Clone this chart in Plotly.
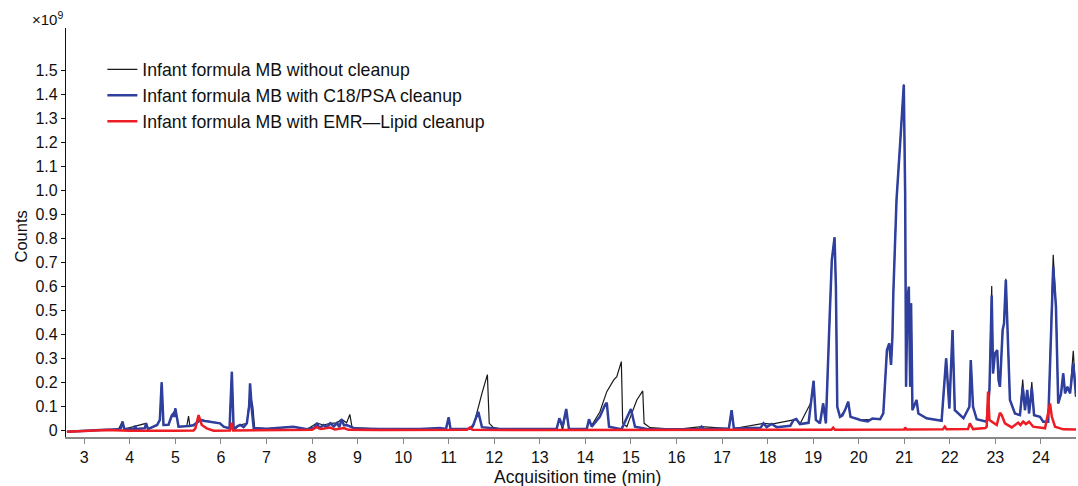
import plotly.graph_objects as go

# ---------------- data (time in min, counts in units of 1e9) ----------------
blue_t = [2.62, 2.91, 3.35, 3.75, 3.80, 3.84, 3.88, 4.10, 4.12, 4.14, 4.33, 4.36, 4.40, 4.60, 4.66, 4.70,
          4.74, 4.85, 4.92, 4.96, 4.98, 5.00, 5.03, 5.07, 5.29, 5.40, 5.47, 5.55, 5.65, 5.77, 5.85, 5.98,
          6.06, 6.19, 6.24, 6.28, 6.35, 6.42, 6.50, 6.57, 6.62, 6.64, 6.68, 6.72, 7.01, 7.30, 7.59, 7.89,
          8.05, 8.11, 8.16, 8.25, 8.32, 8.40, 8.48, 8.55, 8.60, 8.65, 8.70, 8.76, 8.95, 9.50, 10.37, 10.81,
          10.94, 11.00, 11.04, 11.47, 11.54, 11.65, 11.73, 12.13, 13.00, 13.37, 13.43, 13.50, 13.58, 13.64,
          14.03, 14.08, 14.14, 14.32, 14.43, 14.47, 14.52, 14.76, 14.80, 15.00, 15.09, 15.35, 16.00, 16.50,
          16.55, 16.60, 17.15, 17.21, 17.26, 17.85, 17.91, 17.98, 18.09, 18.20, 18.50, 18.57, 18.63, 18.71,
          18.90, 18.95, 19.01, 19.06, 19.15, 19.22, 19.28, 19.36, 19.41, 19.47, 19.50, 19.53, 19.59, 19.64,
          19.70, 19.77, 19.82, 19.99, 20.03, 20.20, 20.30, 20.47, 20.54, 20.62, 20.67, 20.71, 20.74, 20.76,
          20.83, 20.91, 20.96, 20.99, 21.02, 21.04, 21.07, 21.10, 21.13, 21.15, 21.18, 21.27, 21.31, 21.49,
          21.82, 21.88, 21.92, 21.99, 22.06, 22.11, 22.30, 22.43, 22.46, 22.51, 22.59, 22.81, 22.87, 22.92,
          22.95, 22.99, 23.04, 23.07, 23.10, 23.16, 23.19, 23.23, 23.28, 23.32, 23.43, 23.54, 23.60, 23.65,
          23.70, 23.74, 23.80, 23.85, 23.98, 24.05, 24.16, 24.21, 24.27, 24.33, 24.38, 24.44, 24.49, 24.53,
          24.58, 24.64, 24.71, 24.77]
blue_v = [-0.007, -0.003, 0.0, 0.003, 0.006, 0.035, 0.004, 0.005, 0.018, 0.004, 0.008, 0.028, 0.004, 0.021, 0.042, 0.199,
          0.021, 0.022, 0.06, 0.07, 0.055, 0.09, 0.062, 0.014, 0.017, 0.02, 0.03, 0.042, 0.038, 0.035, 0.03, 0.028,
          0.014, 0.007, 0.243, 0.0, 0.015, 0.021, 0.012, 0.028, 0.10, 0.195, 0.083, 0.007, 0.005, 0.008, 0.014, 0.003,
          0.01, 0.029, 0.008, 0.021, 0.012, 0.028, 0.015, 0.03, 0.012, 0.045, 0.02, 0.021, 0.006, 0.004, 0.004, 0.008,
          0.004, 0.053, 0.004, 0.005, 0.021, 0.076, 0.012, 0.004, 0.004, 0.005, 0.049, 0.014, 0.088, 0.004,
          0.004, 0.045, 0.014, 0.056, 0.104, 0.114, 0.014, 0.004, 0.006, 0.088, 0.014, 0.004, 0.003, 0.004,
          0.014, 0.003, 0.006, 0.083, 0.006, 0.01, 0.028, 0.012, 0.025, 0.012, 0.018, 0.042, 0.046, 0.025,
          0.03, 0.114, 0.205, 0.042, 0.028, 0.111, 0.028, 0.458, 0.708, 0.803, 0.597, 0.097, 0.055, 0.06,
          0.083, 0.118, 0.055, 0.045, 0.042, 0.036, 0.048, 0.045, 0.069, 0.333, 0.361, 0.271, 0.389, 0.569,
          0.958, 1.195, 1.361, 1.438, 0.986, 0.18, 0.542, 0.597, 0.18, 0.528, 0.083, 0.125, 0.069, 0.049,
          0.039, 0.2, 0.299, 0.09, 0.417, 0.083, 0.049, 0.097, 0.292, 0.097, 0.045, 0.035, 0.167, 0.56,
          0.236, 0.319, 0.333, 0.208, 0.18, 0.417, 0.444, 0.625, 0.347, 0.125, 0.069, 0.062, 0.18, 0.083,
          0.167, 0.069, 0.174, 0.062, 0.055, 0.035, 0.035, 0.375, 0.68, 0.514, 0.111, 0.15, 0.236, 0.153,
          0.18, 0.153, 0.278, 0.139]

black_t = [2.62, 2.91, 3.35, 3.75, 3.84, 3.88, 4.36, 4.40, 4.60, 4.66, 4.70, 4.74, 4.85, 4.96, 5.00, 5.07,
           5.25, 5.29, 5.32, 5.47, 5.55, 5.77, 5.98, 6.06, 6.19, 6.24, 6.28, 6.42, 6.57, 6.64, 6.70, 6.74,
           7.01, 7.59, 7.89, 8.11, 8.25, 8.40, 8.55, 8.65, 8.76, 8.83, 8.88, 9.50, 10.37, 10.94, 11.00, 11.04,
           11.47, 11.54, 11.73, 11.85, 11.89, 11.98, 12.13, 13.00, 13.37, 13.43, 13.50, 13.58, 13.64, 14.03,
           14.08, 14.14, 14.32, 14.47, 14.62, 14.69, 14.75, 14.79, 14.82, 14.91, 15.00, 15.13, 15.26, 15.29,
           15.42, 16.00, 16.55, 17.15, 17.21, 17.26, 17.91, 18.09, 18.57, 18.63, 18.71, 18.95, 19.01, 19.06,
           19.15, 19.22, 19.28, 19.36, 19.41, 19.47, 19.50, 19.53, 19.59, 19.70, 19.77, 19.82, 19.99, 20.03,
           20.47, 20.54, 20.62, 20.67, 20.71, 20.74, 20.76, 20.83, 20.91, 20.96, 20.99, 21.02, 21.04, 21.07,
           21.10, 21.13, 21.15, 21.18, 21.27, 21.31, 21.49, 21.82, 21.88, 21.92, 21.99, 22.06, 22.11, 22.30,
           22.43, 22.46, 22.51, 22.59, 22.81, 22.87, 22.92, 22.95, 22.99, 23.04, 23.07, 23.10, 23.16, 23.19,
           23.23, 23.28, 23.32, 23.43, 23.54, 23.60, 23.65, 23.70, 23.74, 23.80, 23.85, 23.98, 24.05, 24.16,
           24.21, 24.27, 24.33, 24.38, 24.44, 24.49, 24.53, 24.58, 24.64, 24.71, 24.77]
black_v = [-0.007, -0.003, 0.0, 0.003, 0.035, 0.004, 0.028, 0.004, 0.021, 0.042, 0.199, 0.021, 0.022, 0.07, 0.09, 0.014,
           0.015, 0.058, 0.015, 0.03, 0.042, 0.035, 0.028, 0.014, 0.007, 0.243, 0.0, 0.021, 0.028, 0.15, 0.10, 0.01,
           0.005, 0.014, 0.003, 0.029, 0.021, 0.028, 0.03, 0.045, 0.03, 0.065, 0.01, 0.004, 0.004, 0.004, 0.053, 0.004,
           0.005, 0.014, 0.153, 0.231, 0.028, 0.011, 0.004, 0.004, 0.005, 0.05, 0.0, 0.08, 0.004, 0.004,
           0.04, 0.02, 0.076, 0.16, 0.208, 0.222, 0.257, 0.285, 0.028, 0.014, 0.06, 0.125, 0.163, 0.028,
           0.01, 0.003, 0.014, 0.006, 0.083, 0.006, 0.028, 0.025, 0.042, 0.046, 0.025, 0.114, 0.205, 0.042,
           0.028, 0.111, 0.028, 0.458, 0.708, 0.803, 0.597, 0.097, 0.055, 0.083, 0.118, 0.055, 0.045, 0.042,
           0.045, 0.069, 0.333, 0.361, 0.271, 0.389, 0.569, 0.958, 1.195, 1.361, 1.44, 0.986, 0.18, 0.542,
           0.597, 0.18, 0.528, 0.083, 0.125, 0.069, 0.049, 0.039, 0.2, 0.299, 0.09, 0.417, 0.083, 0.049,
           0.097, 0.292, 0.097, 0.045, 0.035, 0.167, 0.60, 0.236, 0.319, 0.333, 0.208, 0.18, 0.417, 0.444,
           0.63, 0.347, 0.125, 0.069, 0.062, 0.21, 0.083, 0.167, 0.069, 0.20, 0.062, 0.055, 0.035, 0.035,
           0.375, 0.73, 0.514, 0.111, 0.15, 0.236, 0.153, 0.18, 0.153, 0.33, 0.139]

red_t = [2.62, 3.00, 3.50, 4.00, 4.50, 5.00, 5.40, 5.44, 5.51, 5.58, 5.69, 5.84, 6.20, 6.24, 6.27, 7.00,
         7.50, 8.00, 8.10, 8.20, 8.40, 8.50, 8.70, 8.80, 9.50, 10.50, 11.40, 11.47, 11.52, 13.00, 15.00, 17.00,
         19.40, 19.44, 19.48, 21.00, 21.02, 21.05, 21.85, 21.89, 21.93, 22.40, 22.44, 22.51, 22.78, 22.81,
         22.84, 22.87, 22.92, 23.03, 23.10, 23.14, 23.21, 23.36, 23.50, 23.55, 23.61, 23.67, 23.74, 23.83,
         24.09, 24.16, 24.20, 24.24, 24.31, 24.49, 24.77]
red_v = [-0.007, -0.003, 0.0, -0.003, -0.004, -0.003, -0.002, 0.007, 0.062, 0.021, 0.007, -0.003, -0.002, 0.03, -0.002, 0.0,
         0.002, 0.001, 0.012, 0.004, 0.01, 0.002, 0.008, 0.001, 0.0, 0.001, 0.001, 0.011, 0.001, 0.0, 0.0, 0.0,
         0.001, 0.01, 0.001, 0.002, 0.011, 0.002, 0.003, 0.014, 0.003, 0.004, 0.028, 0.004, 0.008, 0.014,
         0.16, 0.042, 0.035, 0.021, 0.072, 0.062, 0.028, 0.011, 0.031, 0.021, 0.035, 0.025, 0.035, 0.014,
         0.007, 0.069, 0.111, 0.055, 0.014, 0.003, 0.002]

y_tickvals = [0, 0.1, 0.2, 0.3, 0.4, 0.5, 0.6, 0.7, 0.8, 0.9, 1.0, 1.1, 1.2, 1.3, 1.4, 1.5]
y_ticktext = ["0", "0.1", "0.2", "0.3", "0.4", "0.5", "0.6", "0.7", "0.8", "0.9", "1.0", "1.1", "1.2", "1.3", "1.4", "1.5"]
x_tickvals = list(range(3, 25))

names = ["Infant formula MB without cleanup",
         "Infant formula MB with C18/PSA cleanup",
         "Infant formula MB with EMR\u2014Lipid cleanup"]

FONT = "Liberation Sans, Arial, sans-serif"
TXT = "#111111"

fig = go.Figure()
fig.add_trace(go.Scatter(x=black_t, y=black_v, mode="lines", name=names[0], legendgroup="a",
                         line=dict(color="#1a1a1a", width=1.2)))
fig.add_trace(go.Scatter(x=blue_t, y=blue_v, mode="lines", name=names[1], legendgroup="b",
                         line=dict(color="#2f3f9e", width=2.5)))
fig.add_trace(go.Scatter(x=red_t, y=red_v, mode="lines", name=names[2], legendgroup="c",
                         line=dict(color="#ee1c24", width=2.5)))

fig.update_layout(
    width=1078, height=486,
    margin=dict(l=66, r=2, t=28, b=49),
    paper_bgcolor="white", plot_bgcolor="white",
    font=dict(family=FONT, size=16, color=TXT),
    showlegend=True,
    legend=dict(x=0.036, y=0.943, xanchor="left", yanchor="top", bgcolor="rgba(0,0,0,0)",
                font=dict(size=17.7), traceorder="grouped", tracegroupgap=0),
    xaxis=dict(range=[2.6, 24.77], tickvals=x_tickvals, ticks="outside", ticklen=5, tickcolor="#888888",
               showline=True, linecolor="#888888", linewidth=2, showgrid=False, zeroline=False,
               tickfont=dict(size=16), automargin=False),
    yaxis=dict(range=[-0.029, 1.675], tickvals=y_tickvals, ticktext=y_ticktext, ticks="outside", ticklen=4,
               tickcolor=TXT, showline=True, linecolor=TXT, linewidth=1.2, showgrid=False,
               zeroline=False, tickfont=dict(size=16), automargin=False),
    annotations=[
        dict(text="\u00d710<sup>9</sup>", xref="paper", yref="paper", x=0, y=1.0,
             xanchor="right", yanchor="bottom", showarrow=False, font=dict(size=15), xshift=-1, yshift=-2),
        dict(text="Acquisition time (min)", xref="paper", yref="paper", x=0.5, y=0,
             xanchor="center", yanchor="middle", showarrow=False, font=dict(size=17.5), xshift=6, yshift=-40),
        dict(text="Counts", xref="paper", yref="paper", x=0, y=0.5, textangle=-90,
             xanchor="center", yanchor="middle", showarrow=False, font=dict(size=16.5), xshift=-46, yshift=-4),
    ],
)

fig.write_html("out.html", config={"displayModeBar": False},
               post_script="document.body.style.margin='0';document.body.style.padding='0';")
